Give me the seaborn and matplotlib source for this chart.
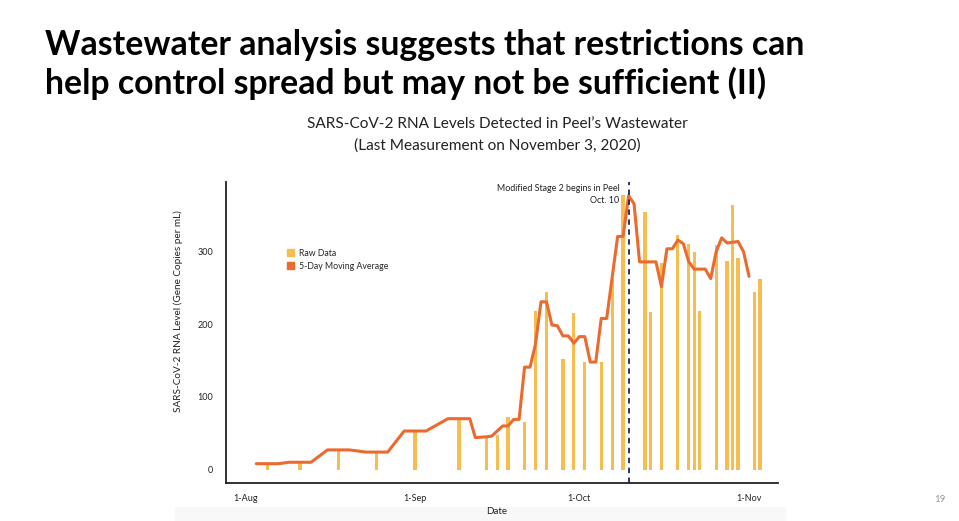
import numpy as np
import pandas as pd
import matplotlib
matplotlib.use("Agg")
import matplotlib.pyplot as plt
from matplotlib.patches import Patch, Rectangle
import seaborn as sns

# Raw measurements (gene copies per mL)
raw_dates = ["2020-08-05", "2020-08-11", "2020-08-18", "2020-08-25", "2020-09-01",
             "2020-09-09", "2020-09-14", "2020-09-16", "2020-09-18", "2020-09-21",
             "2020-09-23", "2020-09-25", "2020-09-28", "2020-09-30", "2020-10-02",
             "2020-10-05", "2020-10-07", "2020-10-09", "2020-10-13", "2020-10-14",
             "2020-10-16", "2020-10-19", "2020-10-21", "2020-10-22", "2020-10-23",
             "2020-10-26", "2020-10-28", "2020-10-29", "2020-10-30", "2020-11-02",
             "2020-11-03"]
raw_values = [8, 10, 27, 24, 53,
              69, 44, 47, 72, 66,
              218, 244, 152, 215, 148,
              148, 262, 378, 354, 217,
              285, 323, 311, 300, 219,
              309, 287, 364, 291, 245,
              262]

# 5-day moving average
avg_dates = ["2020-08-03", "2020-08-07", "2020-08-09", "2020-08-13", "2020-08-16",
             "2020-08-20", "2020-08-23", "2020-08-27", "2020-08-30", "2020-09-03",
             "2020-09-07", "2020-09-11", "2020-09-12", "2020-09-14", "2020-09-15",
             "2020-09-17", "2020-09-18", "2020-09-19", "2020-09-20", "2020-09-21",
             "2020-09-22", "2020-09-23", "2020-09-24", "2020-09-25", "2020-09-26",
             "2020-09-27", "2020-09-28", "2020-09-29", "2020-09-30", "2020-10-01",
             "2020-10-02", "2020-10-03", "2020-10-04", "2020-10-05", "2020-10-06",
             "2020-10-08", "2020-10-09", "2020-10-10", "2020-10-11", "2020-10-12",
             "2020-10-15", "2020-10-16", "2020-10-17", "2020-10-18", "2020-10-19",
             "2020-10-20", "2020-10-21", "2020-10-22", "2020-10-24", "2020-10-25",
             "2020-10-26", "2020-10-27", "2020-10-28", "2020-10-30", "2020-10-31",
             "2020-11-01"]
avg_values = [8, 8, 10, 10, 27,
              27, 24, 24, 53, 53,
              70, 70, 44, 45, 46,
              60, 60, 69, 69, 141,
              141, 173, 231, 231, 199,
              198, 184, 184, 174, 183,
              183, 148, 148, 208, 208,
              321, 321, 377, 366, 286,
              286, 252, 304, 304, 316,
              311, 286, 276, 276, 263,
              300, 319, 312, 314, 300,
              266]

y_ticks = [0, 100, 200, 300]
x_ticks = ["2020-08-01", "2020-09-01", "2020-10-01", "2020-11-01"]
x_tick_labels = ["1-Aug", "1-Sep", "1-Oct", "1-Nov"]
stage2_date = "2020-10-10"

BAR_COLOR = "#F7BE4F"
LINE_COLOR = "#EC6A2D"
FONT = ["Lato", "DejaVu Sans"]

sns.set_style("white")
plt.rcParams["font.family"] = FONT

raw = pd.DataFrame({"date": pd.to_datetime(raw_dates), "value": raw_values})
avg = pd.DataFrame({"date": pd.to_datetime(avg_dates), "value": avg_values})

fig = plt.figure(figsize=(9.59, 5.21), dpi=100)

# faint grey band at the bottom of the slide image (behind everything)
fig.patches.append(Rectangle((175 / 959, 0), 610 / 959, 14 / 521,
                             transform=fig.transFigure, color="#F8F8F8", zorder=-5))

ax = fig.add_axes([0.2353, 0.0729, 0.5760, 0.5778])
ax.patch.set_alpha(0)

ax.bar(raw["date"], raw["value"], width=0.6, color=BAR_COLOR, linewidth=0, zorder=2)
sns.lineplot(data=avg, x="date", y="value", ax=ax, color=LINE_COLOR, linewidth=2.2,
             zorder=3, legend=False)
ax.axvline(pd.Timestamp(stage2_date), color="#1B2559", linestyle=(0, (3, 2.5)),
           linewidth=1.3, zorder=4)

x0 = pd.Timestamp("2020-08-01")
ax.set_xlim(x0 - pd.Timedelta(days=3.6), x0 + pd.Timedelta(days=97.3))
ax.set_ylim(-18.6, 396)
ax.set_yticks(y_ticks)
ax.set_yticklabels([str(v) for v in y_ticks])
ax.set_xticks(pd.to_datetime(x_ticks))
ax.set_xticklabels(x_tick_labels)
ax.tick_params(axis="both", labelsize=6.5, length=3, width=1, colors="#333333",
               labelcolor="#222222", direction="out", pad=6)
ax.tick_params(axis="x", pad=5)
for side in ["top", "right"]:
    ax.spines[side].set_visible(False)
for side in ["left", "bottom"]:
    ax.spines[side].set_color("#222222")
    ax.spines[side].set_linewidth(1.3)

ax.set_xlabel("Date", fontsize=7, color="#222222", va="center")
ax.xaxis.set_label_coords((497 - 225.7) / 552.3, (483 - 511) / 301)
ax.set_ylabel("SARS-CoV-2 RNA Level (Gene Copies per mL)", fontsize=7.2,
              color="#222222")
ax.yaxis.set_label_coords((183 - 225.7) / 552.3, (483 - 311) / 301)

ax.legend(handles=[Patch(color=BAR_COLOR, label="Raw Data"),
                   Patch(color=LINE_COLOR, label="5-Day Moving Average")],
          loc="upper left", bbox_to_anchor=(0.105, 0.79), frameon=False,
          fontsize=6.3, handlelength=0.8, handleheight=0.9,
          handletextpad=0.5, labelspacing=0.45, borderaxespad=0)

ax.text(pd.Timestamp(stage2_date) - pd.Timedelta(days=1.7), 393,
        "Modified Stage 2 begins in Peel\nOct. 10", ha="right", va="top",
        fontsize=6.4, color="#222222", linespacing=1.35)

fig.text(45 / 959, 1 - 45 / 521,
         "Wastewater analysis suggests that restrictions can", fontsize=24.3,
         fontweight="bold", color="black", ha="left", va="center")
fig.text(45 / 959, 1 - 83 / 521,
         "help control spread but may not be sufficient (II)", fontsize=24.3,
         fontweight="bold", color="black", ha="left", va="center")
fig.text(497 / 959, 1 - 124 / 521,
         "SARS-CoV-2 RNA Levels Detected in Peel\u2019s Wastewater",
         fontsize=11.1, color="#222222", ha="center", va="center")
fig.text(497 / 959, 1 - 146 / 521, "(Last Measurement on November 3, 2020)",
         fontsize=11.1, color="#222222", ha="center", va="center")
fig.text(940 / 959, 1 - 500 / 521, "19", fontsize=7, color="#999999",
         ha="center", va="center")

fig.savefig("out.png", dpi=100)
